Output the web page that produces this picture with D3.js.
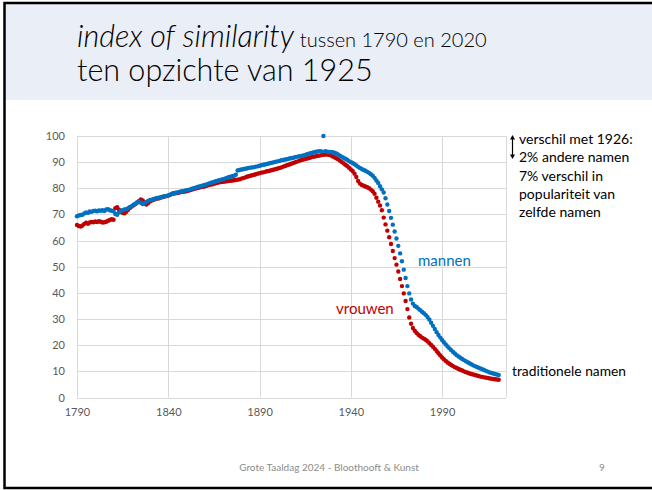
<!DOCTYPE html>
<html>
<head>
<meta charset="utf-8">
<script src="https://cdn.jsdelivr.net/npm/d3@7.9.0/dist/d3.min.js"></script>
<style>
  html, body { margin: 0; padding: 0; background: #fff; }
  svg { display: block; font-family: Lato, "Open Sans", sans-serif; }
</style>
</head>
<body>
<svg id="slide" width="652" height="490"></svg>
<script>
// years 1790 .. 2021, one value per year
const firstYear = 1790;

const mannen = [
  69.3, 69.6, 69.8, 69.9, 70.4, 70.8, 70.6, 71.1, 71.0, 71.3,
  71.4, 71.2, 71.5, 71.4, 71.6, 71.3, 71.9, 72.0, 71.6, 71.4,
  71.2, 70.2, 69.9, 70.8, 71.4, 71.6, 71.9, 72.0, 72.4, 72.9,
  73.2, 73.7, 74.1, 74.6, 74.9, 74.5, 74.0, 74.3, 74.8, 75.2,
  75.5, 75.6, 75.9, 76.1, 76.3, 76.4, 76.6, 76.8, 77.0, 77.1,
  77.3, 77.6, 77.9, 78.1, 78.3, 78.4, 78.6, 78.8, 78.9, 79.1,
  79.3, 79.4, 79.6, 79.8, 80.0, 80.2, 80.5, 80.7, 80.9, 81.1,
  81.3, 81.5, 81.8, 82.0, 82.2, 82.4, 82.7, 82.9, 83.1, 83.3,
  83.5, 83.7, 84.0, 84.2, 84.4, 84.6, 84.8, 85.2, 86.8, 87.0,
  87.2, 87.3, 87.5, 87.6, 87.8, 87.9, 88.0, 88.1, 88.3, 88.4,
  88.6, 88.8, 89.0, 89.1, 89.3, 89.5, 89.7, 89.8, 90.0, 90.2,
  90.3, 90.5, 90.7, 90.8, 91.0, 91.1, 91.3, 91.5, 91.6, 91.8,
  92.0, 92.1, 92.3, 92.4, 92.6, 92.8, 93.0, 93.2, 93.4, 93.6,
  93.8, 94.0, 94.1, 94.2, 94.1, 100.0, 94.2, 94.0, 93.9, 93.9,
  93.8, 93.6, 93.3, 92.9, 92.5, 92.1, 91.7, 91.3, 90.9, 90.4,
  90.0, 89.7, 89.2, 88.7, 88.2, 87.8, 87.4, 87.0, 86.7, 86.3,
  85.9, 85.4, 84.8, 84.0, 83.0, 82.0, 80.8, 79.6, 78.4, 76.2,
  73.8, 71.3, 68.7, 66.1, 63.5, 60.8, 58.0, 55.1, 52.1, 48.9,
  45.7, 42.6, 39.8, 37.5, 35.9, 35.0, 34.6, 34.0, 33.4, 32.8,
  32.2, 31.6, 30.8, 29.8, 28.6, 27.4, 26.2, 25.0, 23.9, 22.9,
  22.0, 21.1, 20.3, 19.5, 18.8, 18.1, 17.4, 16.8, 16.2, 15.7,
  15.2, 14.7, 14.3, 13.9, 13.5, 13.1, 12.7, 12.3, 12.0, 11.7,
  11.4, 11.1, 10.8, 10.5, 10.2, 9.9, 9.6, 9.4, 9.2, 9.0,
  8.8, 8.6
];

const vrouwen = [
  66.0, 65.6, 65.4, 65.8, 66.4, 66.8, 66.4, 66.9, 67.1, 67.0,
  67.3, 67.1, 67.4, 67.2, 66.9, 67.0, 67.2, 67.6, 67.9, 68.2,
  68.0, 72.4, 72.8, 71.8, 71.2, 70.6, 70.4, 71.0, 71.8, 72.5,
  73.0, 73.5, 74.0, 74.6, 75.2, 75.7, 75.4, 74.2, 73.8, 74.4,
  75.0, 75.3, 75.6, 75.9, 76.1, 76.2, 76.5, 76.7, 76.9, 77.0,
  77.2, 77.5, 77.8, 78.0, 78.1, 78.2, 78.4, 78.6, 78.7, 78.8,
  78.9, 79.1, 79.3, 79.5, 79.7, 79.9, 80.1, 80.3, 80.5, 80.6,
  80.8, 81.0, 81.2, 81.4, 81.5, 81.7, 81.9, 82.1, 82.3, 82.4,
  82.5, 82.6, 82.7, 82.8, 82.9, 83.0, 83.1, 83.2, 83.3, 83.4,
  83.7, 83.9, 84.1, 84.4, 84.6, 84.8, 85.0, 85.2, 85.4, 85.6,
  85.8, 86.0, 86.1, 86.3, 86.5, 86.6, 86.8, 87.0, 87.2, 87.4,
  87.6, 87.8, 88.0, 88.3, 88.5, 88.8, 89.0, 89.3, 89.6, 89.8,
  90.1, 90.3, 90.6, 90.8, 91.0, 91.2, 91.4, 91.6, 91.8, 92.0,
  92.1, 92.3, 92.4, 92.5, 92.7, 92.8, 92.9, 92.9, 92.8, 92.6,
  92.2, 91.9, 91.5, 91.1, 90.6, 90.1, 89.6, 89.0, 88.5, 87.9,
  87.2, 86.6, 85.6, 84.3, 82.8, 81.8, 81.3, 81.0, 80.7, 80.4,
  80.0, 79.5, 78.9, 77.9, 76.4, 74.9, 73.4, 71.6, 68.8, 66.2,
  63.8, 61.3, 58.7, 56.0, 53.3, 50.8, 48.2, 45.3, 42.6, 39.8,
  36.9, 33.8, 30.6, 28.2, 26.6, 25.5, 24.7, 24.0, 23.4, 22.9,
  22.5, 22.1, 21.5, 20.8, 20.1, 19.4, 18.6, 17.8, 16.9, 16.1,
  15.3, 14.6, 14.0, 13.4, 12.9, 12.4, 12.0, 11.6, 11.3, 10.9,
  10.6, 10.3, 10.0, 9.7, 9.5, 9.2, 9.0, 8.8, 8.6, 8.4,
  8.2, 8.0, 7.9, 7.7, 7.6, 7.5, 7.3, 7.2, 7.1, 7.0,
  6.9, 6.8
];

const xTicks = [1790, 1840, 1890, 1940, 1990];
const yTicks = [0, 10, 20, 30, 40, 50, 60, 70, 80, 90, 100];

const svg = d3.select('#slide');

// slide header band
svg.append('rect')
  .attr('x', 4).attr('y', 4).attr('width', 648).attr('height', 96)
  .attr('fill', '#e9eef7');

// slide frame
svg.append('path')
  .attr('d', 'M652,3 H4.5 V488 H652')
  .attr('fill', 'none').attr('stroke', '#000').attr('stroke-width', 2.5);

// title
const t1 = svg.append('text').attr('x', 77).attr('y', 47).attr('fill', '#000')
  .attr('font-weight', 300);
t1.append('tspan').attr('font-style', 'italic').attr('font-size', 30.5).text('index of similarity');
t1.append('tspan').attr('font-size', 20).attr('dx', 6).text('tussen 1790 en 2020');
svg.append('text').attr('x', 77).attr('y', 81)
  .attr('font-size', 30.5).attr('font-weight', 300).attr('fill', '#000')
  .text('ten opzichte van 1925');

// chart
const x = d3.scaleLinear().domain([1790, 2025]).range([77, 506]);
const y = d3.scaleLinear().domain([0, 100]).range([397.5, 136]);

const grid = svg.append('g').attr('stroke', '#d9d9d9').attr('stroke-width', 1);
grid.selectAll('line.h').data(yTicks).join('line')
  .attr('class', 'h')
  .attr('x1', x(1790)).attr('x2', x(2025))
  .attr('y1', d => Math.round(y(d)) + 0.5).attr('y2', d => Math.round(y(d)) + 0.5);
grid.selectAll('line.v').data(xTicks.concat([2025])).join('line')
  .attr('class', 'v')
  .attr('x1', d => Math.round(x(d)) + 0.5).attr('x2', d => Math.round(x(d)) + 0.5)
  .attr('y1', y(100)).attr('y2', y(0));

const yAxis = svg.append('g')
  .attr('transform', `translate(${x(1790)},0)`)
  .call(d3.axisLeft(y).tickValues(yTicks).tickSize(0).tickPadding(12));
yAxis.select('.domain').remove();
yAxis.selectAll('text').attr('font-size', 11).attr('fill', '#595959')
  .attr('font-family', 'Lato, "Open Sans", sans-serif');

const xAxis = svg.append('g')
  .attr('transform', `translate(0,${y(0)})`)
  .call(d3.axisBottom(x).tickValues(xTicks).tickFormat(d3.format('d')).tickSize(0).tickPadding(11));
xAxis.select('.domain').remove();
xAxis.selectAll('text').attr('font-size', 11).attr('fill', '#595959')
  .attr('font-family', 'Lato, "Open Sans", sans-serif');

function dots(values, color) {
  svg.append('g').attr('fill', color)
    .selectAll('circle')
    .data(values)
    .join('circle')
    .attr('cx', (d, i) => x(firstYear + i))
    .attr('cy', d => y(d))
    .attr('r', 2.2);
}
dots(vrouwen, '#c00000');
dots(mannen, '#0070c0');

// labels
svg.append('text').attr('x', 418).attr('y', 266)
  .attr('font-size', 15).attr('fill', '#0070c0').text('mannen');
svg.append('text').attr('x', 336).attr('y', 314)
  .attr('font-size', 15).attr('fill', '#c00000').text('vrouwen');
svg.append('text').attr('x', 512).attr('y', 376)
  .attr('font-size', 13.8).attr('fill', '#000').text('traditionele namen');

const note = ['verschil met 1926:', '2% andere namen', '7% verschil in', 'populariteit van', 'zelfde namen'];
svg.append('g').selectAll('text').data(note).join('text')
  .attr('x', 519).attr('y', (d, i) => 144 + i * 18.3)
  .attr('font-size', 14).attr('fill', '#000').text(d => d);

// double arrow
svg.append('line').attr('x1', 512.5).attr('x2', 512.5).attr('y1', 138).attr('y2', 156)
  .attr('stroke', '#000').attr('stroke-width', 1.2);
svg.append('path').attr('d', 'M510,139.5 L512.5,135 L515,139.5 Z').attr('fill', '#000');
svg.append('path').attr('d', 'M510,154.5 L512.5,159 L515,154.5 Z').attr('fill', '#000');

// footer
svg.append('text').attr('x', 329).attr('y', 471).attr('text-anchor', 'middle')
  .attr('font-size', 10).attr('fill', '#8c8c8c').text('Grote Taaldag 2024 - Bloothooft & Kunst');
svg.append('text').attr('x', 602).attr('y', 471).attr('text-anchor', 'middle')
  .attr('font-size', 10).attr('fill', '#8c8c8c').text('9');
</script>
</body>
</html>
